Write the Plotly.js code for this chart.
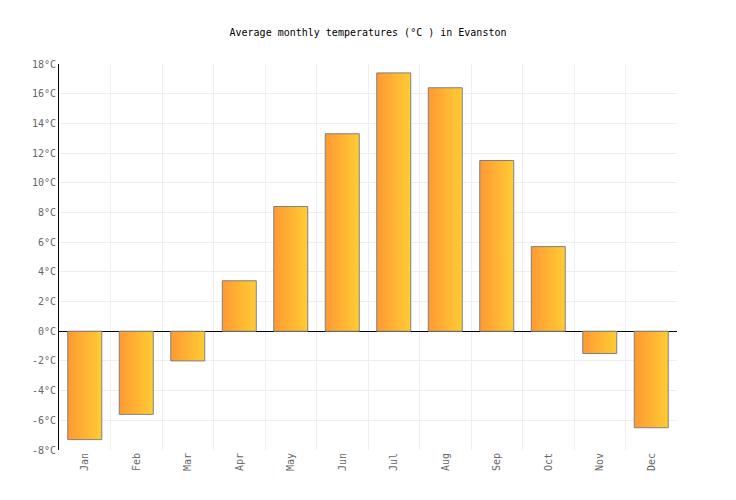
<!DOCTYPE html>
<html>
<head>
<meta charset="utf-8">
<script src="https://cdn.plot.ly/plotly-3.0.1.min.js"></script>
<style>
  html, body { margin: 0; padding: 0; background: #fff; }
  #chart { width: 736px; height: 500px; }
</style>
</head>
<body>
<div id="chart"></div>
<script>
// Monthly averages (°C)
const months = ['Jan', 'Feb', 'Mar', 'Apr', 'May', 'Jun', 'Jul', 'Aug', 'Sep', 'Oct', 'Nov', 'Dec'];
const temps = [-7.3, -5.6, -2.0, 3.4, 8.4, 13.3, 17.4, 16.4, 11.5, 5.7, -1.5, -6.5];
const yTicks = [-8, -6, -4, -2, 0, 2, 4, 6, 8, 10, 12, 14, 16, 18];

const FONT = "'DejaVu Sans Mono', monospace";

const trace = {
  type: 'bar',
  x: months,
  y: temps,
  width: 0.66,
  marker: { color: '#ffb233', line: { color: '#808080', width: 1 } },
  hoverinfo: 'x+y',
};

const layout = {
  width: 736,
  height: 500,
  paper_bgcolor: '#fff',
  plot_bgcolor: '#fff',
  margin: { l: 59, r: 59, t: 64, b: 50 },
  showlegend: false,
  title: {
    text: 'Average monthly temperatures (°C ) in Evanston',
    font: { family: FONT, size: 10, color: '#000' },
    x: 0.5, xanchor: 'center', y: 0.936, yanchor: 'middle',
  },
  xaxis: {
    type: 'category',
    tickson: 'boundaries',
    showgrid: true,
    gridcolor: '#eeeeee',
    ticks: '',
    tickangle: -90,
    tickfont: { family: FONT, size: 10, color: '#666' },
    showline: false,
    zeroline: false,
    range: [-0.5, 11.5],
  },
  yaxis: {
    range: [-8, 18],
    tickvals: yTicks,
    ticktext: yTicks.map(v => v + '°C'),
    tickfont: { family: FONT, size: 10, color: '#666' },
    gridcolor: '#eeeeee',
    showline: true,
    linecolor: '#000',
    linewidth: 1,
    zeroline: true,
    zerolinecolor: '#000',
    zerolinewidth: 1,
    ticks: '',
  },
};

const chartEl = document.getElementById('chart');

// Plotly has no bar gradients, so paint the rendered bars with an svg gradient
function applyGradient() {
  const svg = chartEl.querySelector('svg.main-svg');
  if (!svg) return;
  let defs = svg.querySelector('defs');
  if (!defs) {
    defs = document.createElementNS('http://www.w3.org/2000/svg', 'defs');
    svg.insertBefore(defs, svg.firstChild);
  }
  if (!svg.querySelector('#barGrad')) {
    const grad = document.createElementNS('http://www.w3.org/2000/svg', 'linearGradient');
    grad.setAttribute('id', 'barGrad');
    grad.setAttribute('x1', '0'); grad.setAttribute('y1', '0');
    grad.setAttribute('x2', '1'); grad.setAttribute('y2', '0');
    [['0', '#ff9933'], ['1', '#ffcc33']].forEach(([off, col]) => {
      const stop = document.createElementNS('http://www.w3.org/2000/svg', 'stop');
      stop.setAttribute('offset', off);
      stop.setAttribute('stop-color', col);
      grad.appendChild(stop);
    });
    defs.appendChild(grad);
  }
  chartEl.querySelectorAll('.bars .point path').forEach(p => {
    p.style.fill = 'url(#barGrad)';
    p.style.fillOpacity = 1;
  });
}

Plotly.newPlot(chartEl, [trace], layout, { displayModeBar: false, staticPlot: true }).then(() => {
  applyGradient();
  chartEl.on('plotly_afterplot', applyGradient);
});
</script>
</body>
</html>
